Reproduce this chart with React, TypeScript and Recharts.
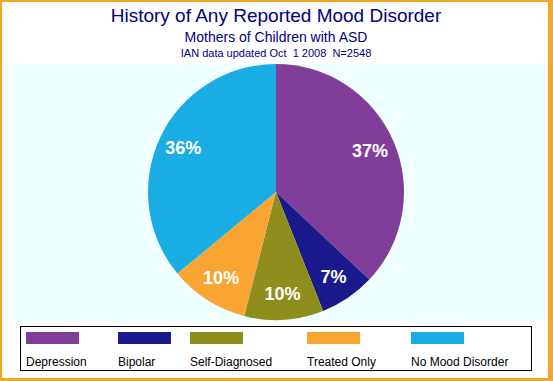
import { PieChart, Pie, Cell, Legend } from "recharts";

const categories = [
  "Depression",
  "Bipolar",
  "Self-Diagnosed",
  "Treated Only",
  "No Mood Disorder",
];
const percents = [37, 7, 10, 10, 36];
const colors = ["#7F3F98", "#1B1A8C", "#8E8E1C", "#F9A533", "#1AADE4"];

const data = categories.map((name, i) => ({ name, value: percents[i] }));

const RAD = Math.PI / 180;
const font = "'Liberation Sans', Arial, sans-serif";

const renderLabel = (props: any) => {
  const { cx, cy, midAngle, outerRadius, value } = props;
  const r = outerRadius * 0.8;
  const x = cx + r * Math.cos(-midAngle * RAD);
  const y = cy + r * Math.sin(-midAngle * RAD);
  return (
    <text
      x={x}
      y={y}
      fill="#fff"
      fontSize={18}
      fontWeight="bold"
      fontFamily={font}
      textAnchor="middle"
      dominantBaseline="central"
    >
      {value}%
    </text>
  );
};

// left offsets of the legend items inside the box
const legendLeft = [6, 98, 170, 287, 391];

const LegendBox = () => (
  <div
    style={{
      position: "relative",
      width: 512,
      height: 45,
      boxSizing: "border-box",
      border: "1px solid #000",
      background: "#fff",
      fontFamily: font,
    }}
  >
    {data.map((d, i) => (
      <div key={d.name} style={{ position: "absolute", left: legendLeft[i] - 1, top: 5 }}>
        <div style={{ width: 53, height: 12, background: colors[i] }} />
        <div style={{ marginTop: 11, fontSize: 12, color: "#000", whiteSpace: "nowrap" }}>
          {d.name}
        </div>
      </div>
    ))}
  </div>
);

export default function App() {
  return (
    <div
      style={{
        position: "absolute",
        left: 0,
        top: 0,
        width: 553,
        height: 381,
        background: "#fff",
        overflow: "hidden",
      }}
    >
      <div
        style={{
          position: "absolute",
          inset: 0,
          borderStyle: "solid",
          borderColor: "#F7A325",
          borderWidth: "2px 5px 3px 2px",
        }}
      />
      <div
        style={{
          position: "absolute",
          left: 6,
          top: 64,
          width: 540,
          height: 257,
          background: "#F0FFFF",
        }}
      />
      <svg
        width={553}
        height={64}
        style={{ position: "absolute", left: 0, top: 0 }}
        fontFamily={font}
      >
        <text x={276} y={22} textAnchor="middle" fontSize={19} fill="#000080">
          History of Any Reported Mood Disorder
        </text>
        <text x={276} y={42} textAnchor="middle" fontSize={14} fill="#000080">
          Mothers of Children with ASD
        </text>
        <text
          x={276}
          y={57}
          textAnchor="middle"
          fontSize={11}
          fill="#000080"
          style={{ whiteSpace: "pre" }}
        >
          IAN data updated Oct  1 2008  N=2548
        </text>
      </svg>
      <div style={{ position: "absolute", left: 0, top: 0 }}>
        <PieChart width={553} height={381} margin={{ top: 0, right: 0, bottom: 0, left: 0 }}>
          <Pie
            data={data}
            dataKey="value"
            nameKey="name"
            cx={276}
            cy={192}
            outerRadius={128}
            startAngle={90}
            endAngle={-270}
            stroke="none"
            label={renderLabel}
            labelLine={false}
            isAnimationActive={false}
          >
            {data.map((d, i) => (
              <Cell key={d.name} fill={colors[i]} />
            ))}
          </Pie>
          <Legend
            content={() => <LegendBox />}
            wrapperStyle={{ position: "absolute", left: 20, top: 326, width: 512, height: 45 }}
          />
        </PieChart>
      </div>
    </div>
  );
}
